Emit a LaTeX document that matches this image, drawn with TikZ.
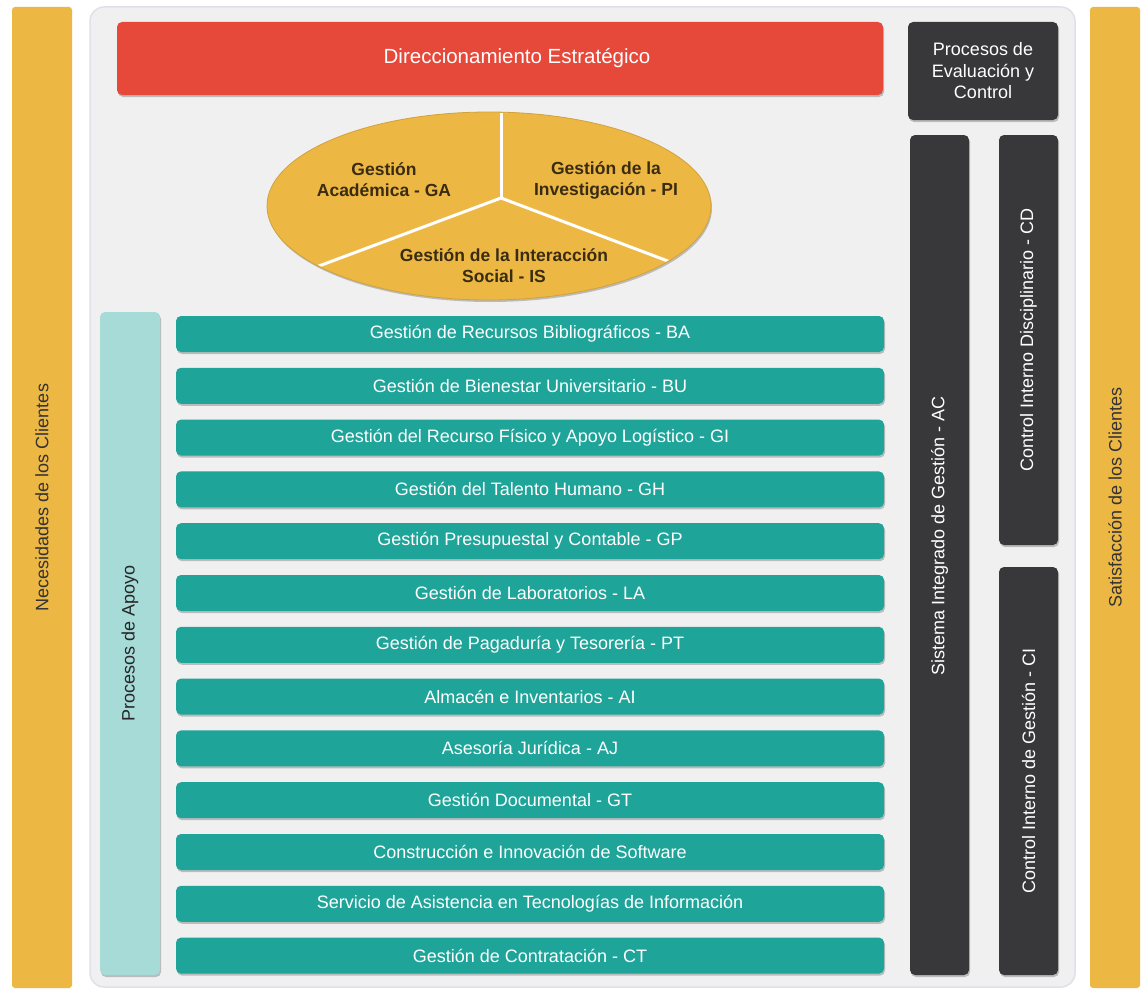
\documentclass[tikz,border=0pt]{standalone}
\usepackage{fontspec}
\setmainfont{Liberation Sans}
\usetikzlibrary{shapes.geometric,shadows}
\definecolor{orng}{RGB}{237,183,68}
\definecolor{panelfill}{RGB}{240,240,240}
\definecolor{paneledge}{RGB}{228,222,234}
\definecolor{redbar}{RGB}{230,72,58}
\definecolor{darkbar}{RGB}{56,56,59}
\definecolor{tealbar}{RGB}{31,164,154}
\definecolor{lightteal}{RGB}{166,219,216}
\definecolor{coretext}{RGB}{58,44,18}
\begin{document}
\begin{tikzpicture}[x=1pt,y=-1pt,
  shd/.style={drop shadow={shadow xshift=1pt,shadow yshift=-2pt,opacity=0.22,fill=black}},
  box/.style={rectangle,rounded corners=5pt,inner sep=0pt,align=center},
  txt/.style={font=\fontsize{18}{21.5}\selectfont},
  sidebar/.style={box,rounded corners=3pt,fill=orng,rotate=90,minimum height=60pt,txt,text=black!80},
  tealbox/.style={box,shd,fill=tealbar,text=white,minimum width=708pt,minimum height=36pt,txt},
  darkbox/.style={box,shd,fill=darkbar,text=white,txt},
  coretxt/.style={align=center,text=coretext,font=\fontsize{17.5}{21}\selectfont\bfseries,inner sep=0pt}
]
\useasboundingbox (0,0) rectangle (1143,990);
\fill[white] (0,0) rectangle (1143,990);

% side bars
\node[sidebar,minimum width=981pt] (need) at (42,497.5) {Necesidades de los Clientes};
\node[sidebar,minimum width=981pt,minimum height=50pt] (sat) at (1115,497.5) {Satisfacción de los Clientes};

% main panel
\node[rectangle,rounded corners=14pt,fill=panelfill,draw=paneledge,line width=1.5pt,
      minimum width=985pt,minimum height=980pt,inner sep=0pt] (panel) at (582.5,497) {};

% top
\node[box,shd,fill=redbar,minimum width=766pt,minimum height=73pt] (dir) at (500,58.5) {};
\node[text=white,font=\fontsize{20.5}{24}\selectfont,inner sep=0pt] (dirtxt) at (517,58.5) {Direccionamiento Estratégico};
\node[darkbox,minimum width=150pt,minimum height=98pt] (eval) at (983,71)
      {Procesos de\\Evaluación y\\Control};

% right dark bars
\node[darkbox,minimum width=59pt,minimum height=840pt] (ac) at (939.5,555) {};
\node[rotate=90,text=white,txt,inner sep=0pt] (actxt) at (939.5,536) {Sistema Integrado de Gestión - AC};
\node[darkbox,rotate=90,minimum width=410pt,minimum height=59pt] (cd) at (1028.5,340)
      {Control Interno Disciplinario - CD};
\node[darkbox,rotate=90,minimum width=408pt,minimum height=59pt] (ci) at (1028.5,771)
      {Control Interno de Gestión - CI};

% core ellipse
\node[ellipse,shd,fill=orng,draw=orng!88!black,line width=0.8pt,
      minimum width=444pt,minimum height=188pt,inner sep=0pt] (core) at (489,206) {};
\begin{scope}
  \clip (489,206) ellipse [x radius=221, y radius=93];
  \coordinate (cc) at (501,198);
  \coordinate (ctop) at (501,100);
  \coordinate (cleft) at (153,328);
  \coordinate (cright) at (845,328);
  \draw[white,line width=3pt] (cc) -- (ctop);
  \draw[white,line width=3pt] (cc) -- (cleft);
  \draw[white,line width=3pt] (cc) -- (cright);
\end{scope}
\node[coretxt] (ga) at (384,180) {Gestión\\Académica - GA};
\node[coretxt] (pi) at (606,180) {Gestión de la\\Investigación - PI};
\node[coretxt] (is) at (504,266) {Gestión de la Interacción\\Social - IS};

% support processes
\node[box,shd,fill=lightteal,rotate=90,minimum width=663pt,minimum height=60pt,
      txt,text=black!85] (apoyo) at (130,643.5) {Procesos de Apoyo};

\foreach \t [count=\i from 0] in {
  Gestión de Recursos Bibliográficos - BA,
  Gestión de Bienestar Universitario - BU,
  Gestión del Recurso Físico y Apoyo Logístico - GI,
  Gestión del Talento Humano - GH,
  Gestión Presupuestal y Contable - GP,
  Gestión de Laboratorios - LA,
  Gestión de Pagaduría y Tesorería - PT,
  Almacén e Inventarios - AI,
  Asesoría Jurídica - AJ,
  Gestión Documental - GT,
  Construcción e Innovación de Software,
  Servicio de Asistencia en Tecnologías de Información,
  Gestión de Contratación - CT}
{
  \node[tealbox] (t\i) at (530,{334+51.8*\i}) {\t};
}
\end{tikzpicture}
\end{document}
